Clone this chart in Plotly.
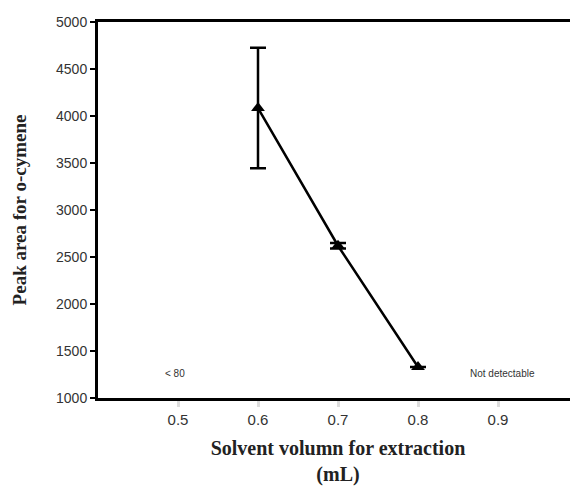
import plotly.graph_objects as go

volume = [0.6, 0.7, 0.8]
peak_area = [4085, 2620, 1330]
error = [640, 30, None]
ann_x = [0.496, 0.906]
ann_text = ["< 80", "Not detectable"]
ann_y = [1260, 1260]

fig = go.Figure()
fig.add_trace(go.Scatter(
    x=volume, y=peak_area, mode="lines+markers",
    line=dict(color="black", width=2.5),
    marker=dict(symbol="triangle-up", size=12, color="black"),
    error_y=dict(type="data", array=error, visible=True, color="black", thickness=2.5, width=8),
    showlegend=False, cliponaxis=False,
))
for x, y, t in zip(ann_x, ann_y, ann_text):
    fig.add_annotation(x=x, y=y, text=t, showarrow=False,
                       font=dict(family="Liberation Sans, Arial", size=10, color="#333"))

fig.update_layout(
    width=570, height=478,
    margin=dict(l=90, r=0, t=14, b=88),
    paper_bgcolor="white", plot_bgcolor="white",
    xaxis=dict(range=[0.4, 1.0], tickvals=[0.5, 0.6, 0.7, 0.8, 0.9],
               ticktext=["0.5", "0.6", "0.7", "0.8", "0.9"],
               showgrid=False, zeroline=False,
               showline=True, linecolor="black", linewidth=3, mirror=True,
               ticks="outside", ticklen=6, tickwidth=3, tickcolor="#dddddd",
               tickfont=dict(family="Liberation Sans, Arial", size=15, color="#333"),
               title=dict(text="<b>Solvent volumn for extraction<br>(mL)</b>",
                          font=dict(family="Liberation Serif, Times New Roman", size=20, color="#222"),
                          standoff=16)),
    yaxis=dict(range=[1000, 5000], tickvals=[1000, 1500, 2000, 2500, 3000, 3500, 4000, 4500, 5000],
               showgrid=False, zeroline=False,
               showline=True, linecolor="black", linewidth=3, mirror=False,
               ticks="outside", ticklen=5, tickwidth=2, tickcolor="black",
               tickfont=dict(family="Liberation Sans, Arial", size=14, color="#333"),
               title=dict(text="<b>Peak area for o-cymene</b>",
                          font=dict(family="Liberation Serif, Times New Roman", size=19, color="#222"),
                          standoff=25)),
)
fig.write_html("out.html")
